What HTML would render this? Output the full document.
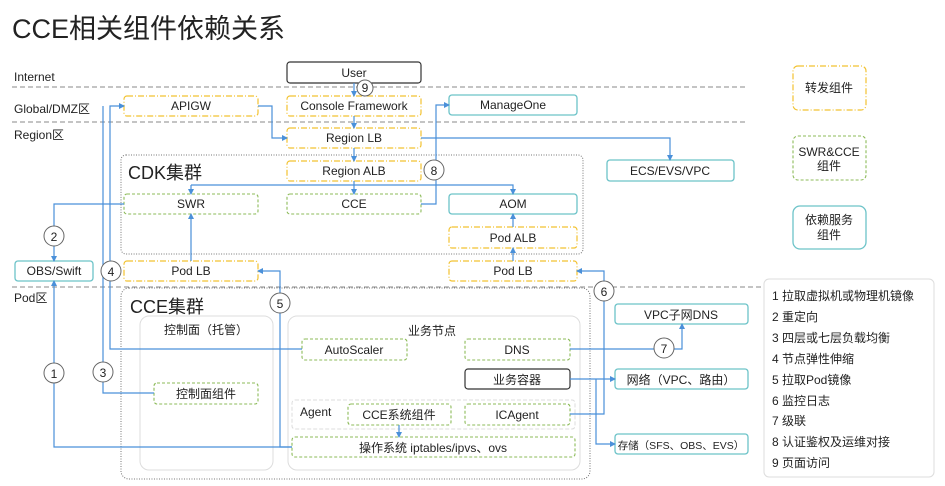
<!DOCTYPE html>
<html><head><meta charset="utf-8"><style>
body{margin:0;background:#fff;}
svg{display:block;font-family:"Liberation Sans","Noto Sans CJK SC",sans-serif;}
text{fill:#222;}
</style></head><body>
<svg width="945" height="486" viewBox="0 0 945 486" xmlns="http://www.w3.org/2000/svg">
<defs>
<marker id="a" markerWidth="6" markerHeight="6" refX="5" refY="3" orient="auto" markerUnits="userSpaceOnUse"><path d="M0,0L6,3L0,6z" fill="#4a90d9"/></marker>
</defs>
<text x="12" y="38" font-size="27" fill="#222">CCE相关组件依赖关系</text>
<g stroke="#888" stroke-dasharray="5,3" stroke-width="1">
<line x1="12" y1="87" x2="748" y2="87"/><line x1="12" y1="122" x2="748" y2="122"/><line x1="12" y1="287" x2="764" y2="287"/>
</g>
<g font-size="12">
<text x="14" y="81">Internet</text><text x="14" y="113">Global/DMZ区</text><text x="14" y="139">Region区</text><text x="14" y="302">Pod区</text>
</g>
<rect x="121" y="155" width="462" height="99" rx="5" fill="none" stroke="#777" stroke-dasharray="1,1.5"/>
<text x="128" y="179" font-size="18">CDK集群</text>
<rect x="121" y="288" width="469" height="191" rx="8" fill="none" stroke="#777" stroke-dasharray="1,1.5"/>
<text x="130" y="313" font-size="18">CCE集群</text>
<rect x="140" y="316" width="133" height="154" rx="9" fill="none" stroke="#ddd"/>
<rect x="288" y="316" width="292" height="154" rx="9" fill="none" stroke="#ddd"/>
<rect x="292" y="400" width="283" height="29" rx="3" fill="none" stroke="#ddd" stroke-dasharray="4,2"/>
<g font-size="12" text-anchor="middle">
<text x="206" y="334">控制面（托管）</text><text x="432" y="335">业务节点</text>
</g>
<text x="300" y="416" font-size="12">Agent</text>
<g fill="#fff" stroke="#f2c230" stroke-dasharray="6,2,1,2" stroke-width="1.2">
<rect x="124" y="96" width="134" height="20" rx="3"/><rect x="287" y="96" width="134" height="20" rx="3"/>
<rect x="287" y="128" width="134" height="20" rx="3"/><rect x="287" y="161" width="134" height="20" rx="3"/>
<rect x="449" y="227" width="128" height="21" rx="3"/><rect x="124" y="261" width="134" height="20" rx="3"/>
<rect x="449" y="261" width="128" height="20" rx="3"/><rect x="793" y="66" width="73" height="44" rx="5"/>
</g>
<g fill="#fff" stroke="#8dbb5a" stroke-dasharray="3,2" stroke-width="1.1">
<rect x="124" y="194" width="134" height="20" rx="3"/><rect x="287" y="194" width="134" height="20" rx="3"/>
<rect x="302" y="339" width="105" height="21" rx="3"/><rect x="465" y="339" width="105" height="21" rx="3"/>
<rect x="154" y="383" width="104" height="21" rx="3"/><rect x="348" y="404" width="103" height="21" rx="3"/>
<rect x="465" y="404" width="105" height="21" rx="3"/><rect x="292" y="437" width="283" height="20" rx="3"/>
<rect x="793" y="136" width="73" height="44" rx="5"/>
</g>
<g fill="#fff" stroke="#6cc3c8" stroke-width="1.3">
<rect x="449" y="95" width="128" height="20" rx="3"/><rect x="449" y="194" width="128" height="20" rx="3"/>
<rect x="607" y="160" width="127" height="21" rx="3"/><rect x="15" y="261" width="78" height="20" rx="3"/>
<rect x="615" y="304" width="133" height="20" rx="3"/><rect x="615" y="369" width="133" height="20" rx="3"/>
<rect x="615" y="434" width="133" height="20" rx="3"/><rect x="793" y="206" width="73" height="43" rx="7"/>
</g>
<rect x="287" y="62" width="134" height="21" rx="3" fill="#fff" stroke="#333" stroke-width="1.2"/>
<rect x="465" y="369" width="105" height="20" rx="3" fill="#fff" stroke="#333" stroke-width="1.2"/>
<rect x="764" y="279" width="170" height="198" rx="5" fill="#fff" stroke="#ddd"/>
<g fill="none" stroke="#4a90d9" stroke-width="1.2">
<path d="M354 83V96" marker-end="url(#a)"/><path d="M354 116V128" marker-end="url(#a)"/>
<path d="M258 106H272V138H287" marker-end="url(#a)"/>
<path d="M421 138H670V160" marker-end="url(#a)"/>
<path d="M354 148V161" marker-end="url(#a)"/><path d="M354 181V194" marker-end="url(#a)"/>
<path d="M191 185H513V194" marker-end="url(#a)"/><path d="M191 185V194" marker-end="url(#a)"/>
<path d="M421 204H436V105H449" marker-end="url(#a)"/>
<path d="M124 204H54V261" marker-end="url(#a)"/>
<path d="M191 261V214" marker-end="url(#a)"/>
<path d="M292 447H280V271H258" marker-end="url(#a)"/>
<path d="M513 227V214" marker-end="url(#a)"/><path d="M513 261V248" marker-end="url(#a)"/>
<path d="M570 414H604V271H577" marker-end="url(#a)"/>
<path d="M302 349H110V106H124" marker-end="url(#a)"/>
<path d="M154 393H103V106"/>
<path d="M292 447H54V281" marker-end="url(#a)"/>
<path d="M570 349H682V324" marker-end="url(#a)"/>
<path d="M570 379H615" marker-end="url(#a)"/>
<path d="M596 379V444H615" marker-end="url(#a)"/>
<path d="M399 425V437" marker-end="url(#a)"/>
</g>
<g fill="#fff" stroke="#666" stroke-width="1">
<circle cx="365" cy="88" r="8"/><circle cx="434" cy="170" r="10"/><circle cx="54" cy="236" r="10"/>
<circle cx="111" cy="271" r="10"/><circle cx="280" cy="303" r="10"/><circle cx="604" cy="291" r="10"/>
<circle cx="54" cy="373" r="10"/><circle cx="103" cy="372" r="10"/><circle cx="664" cy="348" r="10"/>
</g>
<g font-size="12" text-anchor="middle">
<text x="365" y="92">9</text><text x="434" y="175">8</text><text x="54" y="241">2</text>
<text x="111" y="276">4</text><text x="280" y="308">5</text><text x="604" y="296">6</text>
<text x="54" y="378">1</text><text x="103" y="377">3</text><text x="664" y="353">7</text>
<text x="354" y="77">User</text><text x="191" y="110">APIGW</text><text x="354" y="110">Console Framework</text>
<text x="513" y="109">ManageOne</text><text x="354" y="142">Region LB</text><text x="354" y="175">Region ALB</text>
<text x="191" y="208">SWR</text><text x="354" y="208">CCE</text><text x="513" y="208">AOM</text>
<text x="513" y="242">Pod ALB</text><text x="670" y="175">ECS/EVS/VPC</text><text x="54" y="275">OBS/Swift</text>
<text x="191" y="275">Pod LB</text><text x="513" y="275">Pod LB</text>
<text x="354" y="354">AutoScaler</text><text x="517" y="354">DNS</text><text x="517" y="384">业务容器</text>
<text x="206" y="398">控制面组件</text><text x="399" y="419">CCE系统组件</text><text x="517" y="419">ICAgent</text>
<text x="433" y="452">操作系统 iptables/ipvs、ovs</text>
<text x="681" y="319">VPC子网DNS</text><text x="681" y="384">网络（VPC、路由）</text>
<text x="681" y="449" font-size="10.5">存储（SFS、OBS、EVS）</text>
<text x="829" y="92">转发组件</text><text x="829" y="156">SWR&amp;CCE</text><text x="829" y="170">组件</text>
<text x="829" y="224">依赖服务</text><text x="829" y="239">组件</text>
</g>
<g font-size="12">
<text x="772" y="300">1 拉取虚拟机或物理机镜像</text><text x="772" y="321">2 重定向</text>
<text x="772" y="342">3 四层或七层负载均衡</text><text x="772" y="363">4 节点弹性伸缩</text>
<text x="772" y="384">5 拉取Pod镜像</text><text x="772" y="405">6 监控日志</text>
<text x="772" y="425">7 级联</text><text x="772" y="446">8 认证鉴权及运维对接</text>
<text x="772" y="467">9 页面访问</text>
</g>
</svg>
</body></html>
